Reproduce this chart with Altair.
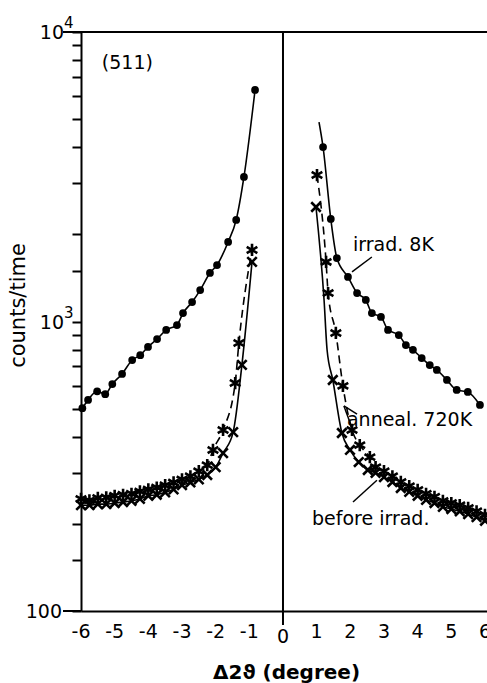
import altair as alt
import pandas as pd

# ---- data ----
# irrad. 8K (filled circles, solid line)
irrad_left_x = [-5.96, -5.79, -5.52, -5.28, -5.07, -4.78, -4.48, -4.24, -4.01, -3.74, -3.47,
                -3.15, -2.97, -2.70, -2.46, -2.17, -1.96, -1.63, -1.39, -1.16, -0.83]
irrad_left_y = [502, 536, 574, 561, 608, 659, 736, 765, 817, 870, 935,
                972, 1069, 1167, 1284, 1471, 1567, 1883, 2243, 3157, 6305]
irrad_right_x = [1.19, 1.42, 1.60, 1.93, 2.20, 2.46, 2.64, 2.91, 3.12, 3.44, 3.65, 3.86,
                 4.12, 4.36, 4.57, 4.87, 5.16, 5.49, 5.85]
irrad_right_y = [4006, 2260, 1657, 1425, 1254, 1187, 1069, 1037, 935, 898, 829, 798,
                 748, 707, 680, 628, 580, 571, 515]
irrad_curve_x = [1.07]          # line continues above first marker
irrad_curve_y = [4886]

# anneal. 720 K (stars, dashed line)
anneal_left_x = [-6.0, -5.75, -5.5, -5.25, -5.0, -4.75, -4.5, -4.25, -4.0, -3.75, -3.5,
                 -3.25, -3.0, -2.75, -2.5, -2.25, -2.08, -1.78, -1.42, -1.31, -0.92]
anneal_left_y = [244, 241, 246, 247, 250, 252, 254, 259, 263, 267, 272,
                 278, 285, 292, 304, 319, 360, 422, 613, 843, 1766]
anneal_right_x = [1.01, 1.28, 1.34, 1.57, 1.78, 2.05, 2.28, 2.58, 2.75, 3.0, 3.25, 3.5,
                  3.75, 4.0, 4.25, 4.5, 4.75, 5.0, 5.25, 5.5, 5.75, 6.0]
anneal_right_y = [3206, 1606, 1254, 913, 599, 422, 374, 340, 314, 304, 292, 279,
                  270, 262, 254, 248, 240, 236, 232, 227, 221, 215]

# before irrad. (crosses, thin solid line)
before_left_x = [-6.0, -5.75, -5.5, -5.25, -5.0, -4.75, -4.5, -4.25, -4.0, -3.75, -3.5,
                 -3.25, -3.0, -2.75, -2.5, -2.25, -2.0, -1.78, -1.48, -1.22, -0.92]
before_left_y = [232, 232, 234, 234, 236, 238, 240, 244, 250, 252, 257,
                 263, 272, 278, 285, 295, 314, 351, 415, 708, 1606]
before_right_x = [0.98, 1.48, 1.75, 1.99, 2.25, 2.52, 2.75, 3.0, 3.25, 3.5, 3.75, 4.0,
                  4.25, 4.5, 4.75, 5.0, 5.25, 5.5, 5.75, 6.0]
before_right_y = [2486, 628, 412, 360, 327, 307, 300, 290, 279, 266, 258, 250,
                  242, 236, 229, 225, 221, 216, 211, 205]
before_curve_x = [1.22, 1.31]    # unmarked points on the curve
before_curve_y = [1187, 797]

x_label_values = [-6, -5, -4, -3, -2, -1, 1, 2, 3, 4, 5, 6]
x_label_texts = ["-6", "-5", "-4", "-3", "-2", "-1", "1", "2", "3", "4", "5", "6"]
zero_label_values = [0]
zero_label_texts = ["0"]
y_tick_values = [100, 150, 200, 300, 400, 500, 600, 700, 800, 900,
                 1000, 1500, 2000, 3000, 4000, 5000, 6000, 7000, 8000, 9000, 10000]
y_long_tick_values = [100, 10000]
y_plain_label_values = [100]
y_plain_label_texts = ["100"]
y_pow_label_values = [1000, 10000]
y_pow_base_texts = ["10", "10"]
y_pow_exp_texts = ["3", "4"]

# annotations
labels_text = ["(511)", "irrad. 8K", "anneal. 720K", "before irrad."]
labels_x = [-5.38, 2.08, 1.90, 0.86]
labels_y = [7817, 1837, 457, 208]
leader_x = [2.64, 1.81, 1.81, 2.08]
leader_y = [1670, 511, 511, 238]
leader_x2 = [2.05, 2.20, 2.05, 2.79]
leader_y2 = [1483, 479, 429, 283]

# ---- tables ----
def frame(series, side, xs, ys, marker):
    return pd.DataFrame({"series": series, "side": side, "x": xs, "y": ys, "marker": marker})

df = pd.concat([
    frame("irrad", "L", irrad_left_x, irrad_left_y, True),
    frame("irrad", "R", irrad_right_x, irrad_right_y, True),
    frame("irrad", "R", irrad_curve_x, irrad_curve_y, False),
    frame("anneal", "L", anneal_left_x, anneal_left_y, True),
    frame("anneal", "R", anneal_right_x, anneal_right_y, True),
    frame("before", "L", before_left_x, before_left_y, True),
    frame("before", "R", before_right_x, before_right_y, True),
    frame("before", "R", before_curve_x, before_curve_y, False),
], ignore_index=True)

ann = pd.DataFrame({"text": labels_text, "x": labels_x, "y": labels_y})
lead = pd.DataFrame({"x": leader_x, "y": leader_y, "x2": leader_x2, "y2": leader_y2})
xlab = pd.DataFrame({"x": x_label_values, "t": x_label_texts})
zlab = pd.DataFrame({"x": zero_label_values, "t": zero_label_texts})
ylong = pd.DataFrame({"y": y_long_tick_values})
yplain = pd.DataFrame({"y": y_plain_label_values, "t": y_plain_label_texts})
ypow = pd.DataFrame({"y": y_pow_label_values, "b": y_pow_base_texts, "e": y_pow_exp_texts})

W, H = 406, 579
FONT = "DejaVu Sans"

xscale = alt.Scale(domain=[-6, 6.06], nice=False, zero=False)
yscale = alt.Scale(type="log", domain=[100, 10000], nice=False)

x_axis = alt.Axis(
    labels=False, ticks=False, grid=False, domainColor="black", domainWidth=2,
    title="Δ2ϑ (degree)", titleFontSize=20, titleFontWeight="bold", titleFont=FONT,
    titleColor="black", titleX=205, titleY=61, titleBaseline="middle", titleAlign="center",
)
y_axis = alt.Axis(
    values=y_tick_values, labels=False,
    tickSize=9, tickWidth=2, tickColor="black", domainColor="black", domainWidth=2,
    grid=False,
    title="counts/time", titleFontSize=21, titleFont=FONT, titleFontWeight="normal",
    titleColor="black", titleAngle=-90, titleX=-63, titleY=273,
    titleAlign="center", titleBaseline="middle",
)

X = alt.X("x:Q", scale=xscale, axis=x_axis)
Y = alt.Y("y:Q", scale=yscale, axis=y_axis)
Xs = alt.X("x:Q", scale=xscale)
Ys = alt.Y("y:Q", scale=yscale)

base = alt.Chart(df)

line_irrad = base.transform_filter("datum.series == 'irrad'").mark_line(
    interpolate="monotone", color="black", strokeWidth=1.6
).encode(x=X, y=Y, detail="side:N")
line_anneal = base.transform_filter("datum.series == 'anneal'").mark_line(
    interpolate="monotone", color="black", strokeWidth=1.6, strokeDash=[8, 5]
).encode(x=Xs, y=Ys, detail="side:N")
line_before = base.transform_filter("datum.series == 'before'").mark_line(
    interpolate="monotone", color="black", strokeWidth=1.6
).encode(x=Xs, y=Ys, detail="side:N")

STAR = "M0,-1L0,1M-0.87,-0.5L0.87,0.5M-0.87,0.5L0.87,-0.5"
CROSS = "M-1,-1L1,1M-1,1L1,-1"

pts_irrad = base.transform_filter("datum.series == 'irrad' && datum.marker").mark_point(
    shape="circle", filled=True, color="black", size=60, opacity=1
).encode(x=Xs, y=Ys)
pts_anneal = base.transform_filter("datum.series == 'anneal' && datum.marker").mark_point(
    shape=STAR, filled=False, color="black", size=150, strokeWidth=2.6, opacity=1
).encode(x=Xs, y=Ys)
pts_before = base.transform_filter("datum.series == 'before' && datum.marker").mark_point(
    shape=CROSS, filled=False, color="black", size=90, strokeWidth=2.6, opacity=1
).encode(x=Xs, y=Ys)

zero_line = alt.Chart(pd.DataFrame({"x": [0]})).mark_rule(color="black", strokeWidth=2).encode(
    x=Xs, y=alt.value(0), y2=alt.value(H + 14)
)
x_labels = alt.Chart(xlab).mark_text(
    fontSize=19, font=FONT, color="black", baseline="middle", align="center"
).encode(x=Xs, y=alt.value(H + 21), text="t:N")
zero_label = alt.Chart(zlab).mark_text(
    fontSize=19, font=FONT, color="black", baseline="middle", align="center"
).encode(x=Xs, y=alt.value(H + 26), text="t:N")
top_border = alt.Chart(pd.DataFrame({"a": [0]})).mark_rule(color="black", strokeWidth=2).encode(
    x=alt.value(0), x2=alt.value(W), y=alt.value(0)
)

long_ticks = alt.Chart(ylong).mark_rule(color="black", strokeWidth=2).encode(
    y=Ys, x=alt.value(-18), x2=alt.value(0)
)
y_plain = alt.Chart(yplain).mark_text(
    fontSize=19, font=FONT, color="black", align="right", baseline="middle", dy=1
).encode(y=Ys, x=alt.value(-19), text="t:N")
y_pow_base = alt.Chart(ypow).mark_text(
    fontSize=19, font=FONT, color="black", align="right", baseline="middle", dy=1
).encode(y=Ys, x=alt.value(-17), text="b:N")
y_pow_exp = alt.Chart(ypow).mark_text(
    fontSize=15, font=FONT, color="black", align="left", baseline="middle", dy=-9
).encode(y=Ys, x=alt.value(-17), text="e:N")

leaders = alt.Chart(lead).mark_rule(color="black", strokeWidth=1.5).encode(
    x=Xs, y=Ys, x2="x2:Q", y2="y2:Q",
)
texts = alt.Chart(ann).mark_text(
    fontSize=19, font=FONT, color="black", align="left", baseline="middle"
).encode(x=Xs, y=Ys, text="text:N")

chart = alt.layer(
    line_irrad, line_anneal, line_before, pts_irrad, pts_anneal, pts_before,
    zero_line, x_labels, zero_label, top_border, long_ticks,
    y_plain, y_pow_base, y_pow_exp, leaders, texts,
).properties(
    width=W, height=H,
    autosize=alt.AutoSizeParams(type="none"),
    padding={"left": 81, "top": 32, "right": 0, "bottom": 72},
).configure_view(stroke=None).configure(background="white")

chart.save("out.html", embed_options={"renderer": "svg", "actions": False})
